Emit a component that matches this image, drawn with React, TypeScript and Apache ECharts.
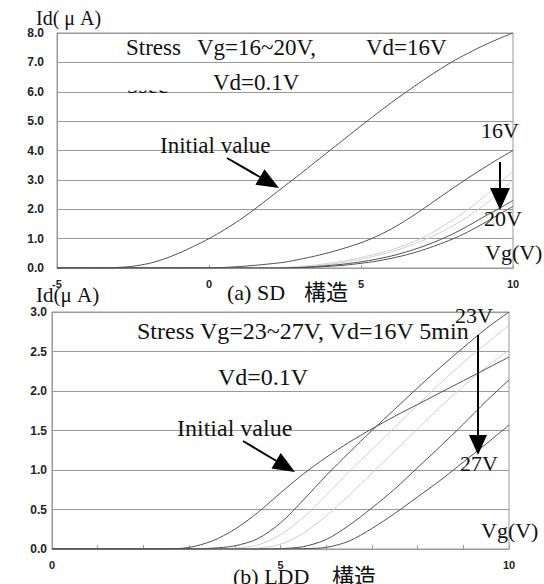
import React, { useEffect, useRef } from "react";
import * as echarts from "echarts";

// ---------- Data: panel (a) SD structure ----------
const vgA = [-5, -4.5, -4, -3.5, -3, -2.5, -2, -1.5, -1, -0.5, 0, 0.5, 1, 1.5, 2, 2.5, 3, 3.5, 4, 4.5, 5, 5.5, 6, 6.5, 7, 7.5, 8, 8.5, 9, 9.5, 10];
const idInitialA = [0, 0, 0, 0.005, 0.02, 0.06, 0.15, 0.3, 0.5, 0.74, 1.0, 1.3, 1.63, 2.0, 2.4, 2.8, 3.2, 3.61, 4.02, 4.43, 4.84, 5.24, 5.63, 6.0, 6.36, 6.7, 7.02, 7.3, 7.56, 7.79, 8.0];
const idStress16 = [0, 0, 0, 0, 0, 0, 0, 0, 0, 0, 0.005, 0.02, 0.05, 0.09, 0.14, 0.2, 0.3, 0.41, 0.54, 0.69, 0.86, 1.07, 1.33, 1.64, 1.98, 2.34, 2.7, 3.05, 3.38, 3.7, 4.0];
const idStress17 = [0, 0, 0, 0, 0, 0, 0, 0, 0, 0, 0, 0, 0, 0, 0, 0.02, 0.05, 0.1, 0.17, 0.25, 0.36, 0.48, 0.62, 0.8, 1.02, 1.3, 1.62, 1.98, 2.38, 2.83, 3.3];
const idStress18 = [0, 0, 0, 0, 0, 0, 0, 0, 0, 0, 0, 0, 0, 0, 0, 0.01, 0.03, 0.07, 0.13, 0.2, 0.3, 0.42, 0.55, 0.72, 0.92, 1.15, 1.42, 1.74, 2.1, 2.53, 3.0];
const idStress19 = [0, 0, 0, 0, 0, 0, 0, 0, 0, 0, 0, 0, 0, 0, 0, 0.005, 0.02, 0.05, 0.09, 0.14, 0.21, 0.3, 0.41, 0.55, 0.72, 0.92, 1.15, 1.42, 1.72, 2.0, 2.3];
const idStress20 = [0, 0, 0, 0, 0, 0, 0, 0, 0, 0, 0, 0, 0, 0, 0, 0, 0.01, 0.03, 0.06, 0.1, 0.16, 0.23, 0.33, 0.45, 0.6, 0.78, 0.98, 1.22, 1.5, 1.8, 2.1];
const yTicksA = [0, 1, 2, 3, 4, 5, 6, 7, 8];
const xTicksA = [-5, 0, 5, 10];

// ---------- Data: panel (b) LDD structure ----------
const vgB = [0, 0.5, 1, 1.5, 2, 2.5, 3, 3.5, 4, 4.5, 5, 5.5, 6, 6.5, 7, 7.5, 8, 8.5, 9, 9.5, 10];
const idInitialB = [0, 0, 0, 0, 0, 0, 0.02, 0.1, 0.25, 0.46, 0.71, 0.95, 1.16, 1.35, 1.52, 1.68, 1.83, 1.98, 2.13, 2.28, 2.43];
const idStress23 = [0, 0, 0, 0, 0, 0, 0, 0.01, 0.04, 0.13, 0.33, 0.62, 0.93, 1.22, 1.5, 1.77, 2.04, 2.3, 2.55, 2.79, 3.0];
const idStress24 = [0, 0, 0, 0, 0, 0, 0, 0, 0.01, 0.05, 0.18, 0.4, 0.68, 0.98, 1.26, 1.54, 1.82, 2.1, 2.36, 2.6, 2.83];
const idStress25 = [0, 0, 0, 0, 0, 0, 0, 0, 0, 0.01, 0.06, 0.2, 0.42, 0.68, 0.96, 1.24, 1.52, 1.8, 2.06, 2.3, 2.52];
const idStress26 = [0, 0, 0, 0, 0, 0, 0, 0, 0, 0, 0.005, 0.03, 0.12, 0.3, 0.52, 0.76, 1.03, 1.3, 1.58, 1.87, 2.14];
const idStress27 = [0, 0, 0, 0, 0, 0, 0, 0, 0, 0, 0, 0.005, 0.02, 0.1, 0.26, 0.45, 0.66, 0.87, 1.1, 1.33, 1.57];
const xLabelsB = [0, 5, 10];

const DARK = "#505050";
const LIGHT = "#cfcfcf";
const SERIF = "'Liberation Serif', 'Times New Roman', serif";
const CJK = "'Liberation Serif', 'Noto Sans CJK JP', serif";

function mk(xs: number[], ys: number[], color: string, ax: number) {
  return {
    type: "line",
    xAxisIndex: ax,
    yAxisIndex: ax,
    data: xs.map((x, i) => [x, ys[i]]),
    smooth: 0.3,
    symbol: "none",
    silent: true,
    clip: true,
    lineStyle: { color, width: 1 },
    z: color === LIGHT ? 2 : 3,
  };
}

function txt(text: string, x: number, y: number, size: number, family = SERIF, extra: any = {}) {
  return {
    type: "text",
    x,
    y,
    z: 100,
    silent: true,
    style: {
      text,
      font: `${size}px ${family}`,
      fill: "#111",
      align: "left",
      verticalAlign: "middle",
      textAlign: "left",
      textVerticalAlign: "middle",
      ...extra,
    },
  };
}

function arrow(x1: number, y1: number, x2: number, y2: number, headLen: number, headW: number) {
  const dx = x2 - x1;
  const dy = y2 - y1;
  const L = Math.sqrt(dx * dx + dy * dy);
  const ux = dx / L;
  const uy = dy / L;
  const bx = x2 - ux * headLen;
  const by = y2 - uy * headLen;
  const px = -uy * headW / 2;
  const py = ux * headW / 2;
  return [
    { type: "line", z: 100, silent: true, shape: { x1, y1, x2: bx, y2: by }, style: { stroke: "#000", lineWidth: 2 } },
    {
      type: "polygon",
      z: 100,
      silent: true,
      shape: { points: [[x2, y2], [bx + px, by + py], [bx - px, by - py]] },
      style: { fill: "#000" },
    },
  ];
}

export default function App() {
  const ref = useRef<HTMLDivElement>(null);
  useEffect(() => {
    if (!ref.current) return;
    const chart = echarts.init(ref.current, null, { renderer: "svg" });
    const axisLabelFont = { fontFamily: "'Liberation Sans', Arial, sans-serif", fontWeight: "bold", fontSize: 12, color: "#222" };
    const option: any = {
      animation: false,
      backgroundColor: "#fff",
      grid: [
        { left: 57, top: 33, width: 456, height: 235, show: true, borderColor: "#999", borderWidth: 1, backgroundColor: "transparent" },
        { left: 52, top: 312, width: 457, height: 237, show: true, borderColor: "#999", borderWidth: 1, backgroundColor: "transparent" },
      ],
      xAxis: [
        {
          type: "value", gridIndex: 0, min: -5, max: 10, interval: 5,
          axisLine: { show: true, onZero: false, lineStyle: { color: "#999" } },
          axisTick: { show: true, inside: true, length: 3, lineStyle: { color: "#999" } },
          splitLine: { show: false },
          axisLabel: { ...axisLabelFont, fontSize: 11, margin: 10, formatter: (v: number) => (xTicksA.includes(v) ? String(v) : "") },
        },
        {
          type: "value", gridIndex: 1, min: 0, max: 10, interval: 1,
          axisLine: { show: true, onZero: false, lineStyle: { color: "#999" } },
          axisTick: { show: true, inside: true, length: 4, lineStyle: { color: "#999" } },
          splitLine: { show: false },
          axisLabel: { ...axisLabelFont, fontSize: 11, margin: 10, formatter: (v: number) => (xLabelsB.includes(v) ? String(v) : "") },
        },
      ],
      yAxis: [
        {
          type: "value", gridIndex: 0, min: 0, max: 8, interval: 1,
          axisLine: { show: true, onZero: false, lineStyle: { color: "#999" } },
          axisTick: { show: false },
          splitLine: { show: true, lineStyle: { color: "#9a9a9a", width: 1 } },
          axisLabel: { ...axisLabelFont, margin: 13, formatter: (v: number) => (yTicksA.includes(v) ? v.toFixed(1) : "") },
        },
        {
          type: "value", gridIndex: 1, min: 0, max: 3, interval: 0.5,
          axisLine: { show: true, onZero: false, lineStyle: { color: "#999" } },
          axisTick: { show: false },
          splitLine: { show: true, lineStyle: { color: "#9a9a9a", width: 1 } },
          axisLabel: { ...axisLabelFont, margin: 5, formatter: (v: number) => v.toFixed(1) },
        },
      ],
      series: [
        mk(vgA, idStress17, LIGHT, 0),
        mk(vgA, idStress18, LIGHT, 0),
        mk(vgA, idInitialA, DARK, 0),
        mk(vgA, idStress16, DARK, 0),
        mk(vgA, idStress19, DARK, 0),
        mk(vgA, idStress20, DARK, 0),
        mk(vgB, idStress24, LIGHT, 1),
        mk(vgB, idStress25, LIGHT, 1),
        mk(vgB, idInitialB, DARK, 1),
        mk(vgB, idStress23, DARK, 1),
        mk(vgB, idStress26, DARK, 1),
        mk(vgB, idStress27, DARK, 1),
      ],
      graphic: [
        // panel (a)
        txt("Id( μ A)", 36, 18, 20),
        txt("Stress", 126, 47, 23),
        txt("Vg=16~20V,", 197, 47, 23),
        txt("Vd=16V", 366, 47, 23),
        txt("5sec", 127, 85, 23),
        { type: "rect", z: 101, silent: true, shape: { x: 120, y: 77.5, width: 60, height: 13 }, style: { fill: "#fff" } },
        txt("Vd=0.1V", 213, 82, 23),
        txt("Initial value", 160, 145, 23),
        ...arrow(227, 158, 279, 188, 22, 18),
        txt("16V", 481, 130, 22),
        ...arrow(500, 162, 500, 210, 22, 20),
        txt("20V", 484, 218, 22),
        txt("Vg(V)", 485, 252, 22),
        txt("(a) SD", 227, 292, 22),
        txt("構造", 304, 292, 22, CJK),
        // panel (b)
        txt("Id(μ A)", 36, 295, 21),
        txt("Stress Vg=23~27V, Vd=16V 5min", 137, 331, 24),
        txt("Vd=0.1V", 218, 377, 24),
        txt("Initial value", 177, 428, 24),
        ...arrow(243, 441, 295, 472, 22, 18),
        txt("23V", 455, 315, 22),
        ...arrow(478, 335, 478, 455, 20, 18),
        txt("27V", 460, 463, 22),
        txt("Vg(V)", 481, 530, 22),
        txt("(b) LDD", 233, 576, 22),
        txt("構造", 332, 576, 22, CJK),
      ],
    };
    chart.setOption(option);
    return () => chart.dispose();
  }, []);
  return (
    <div
      ref={ref}
      style={{ position: "fixed", left: 0, top: 0, width: 544, height: 584, background: "#fff" }}
    />
  );
}
